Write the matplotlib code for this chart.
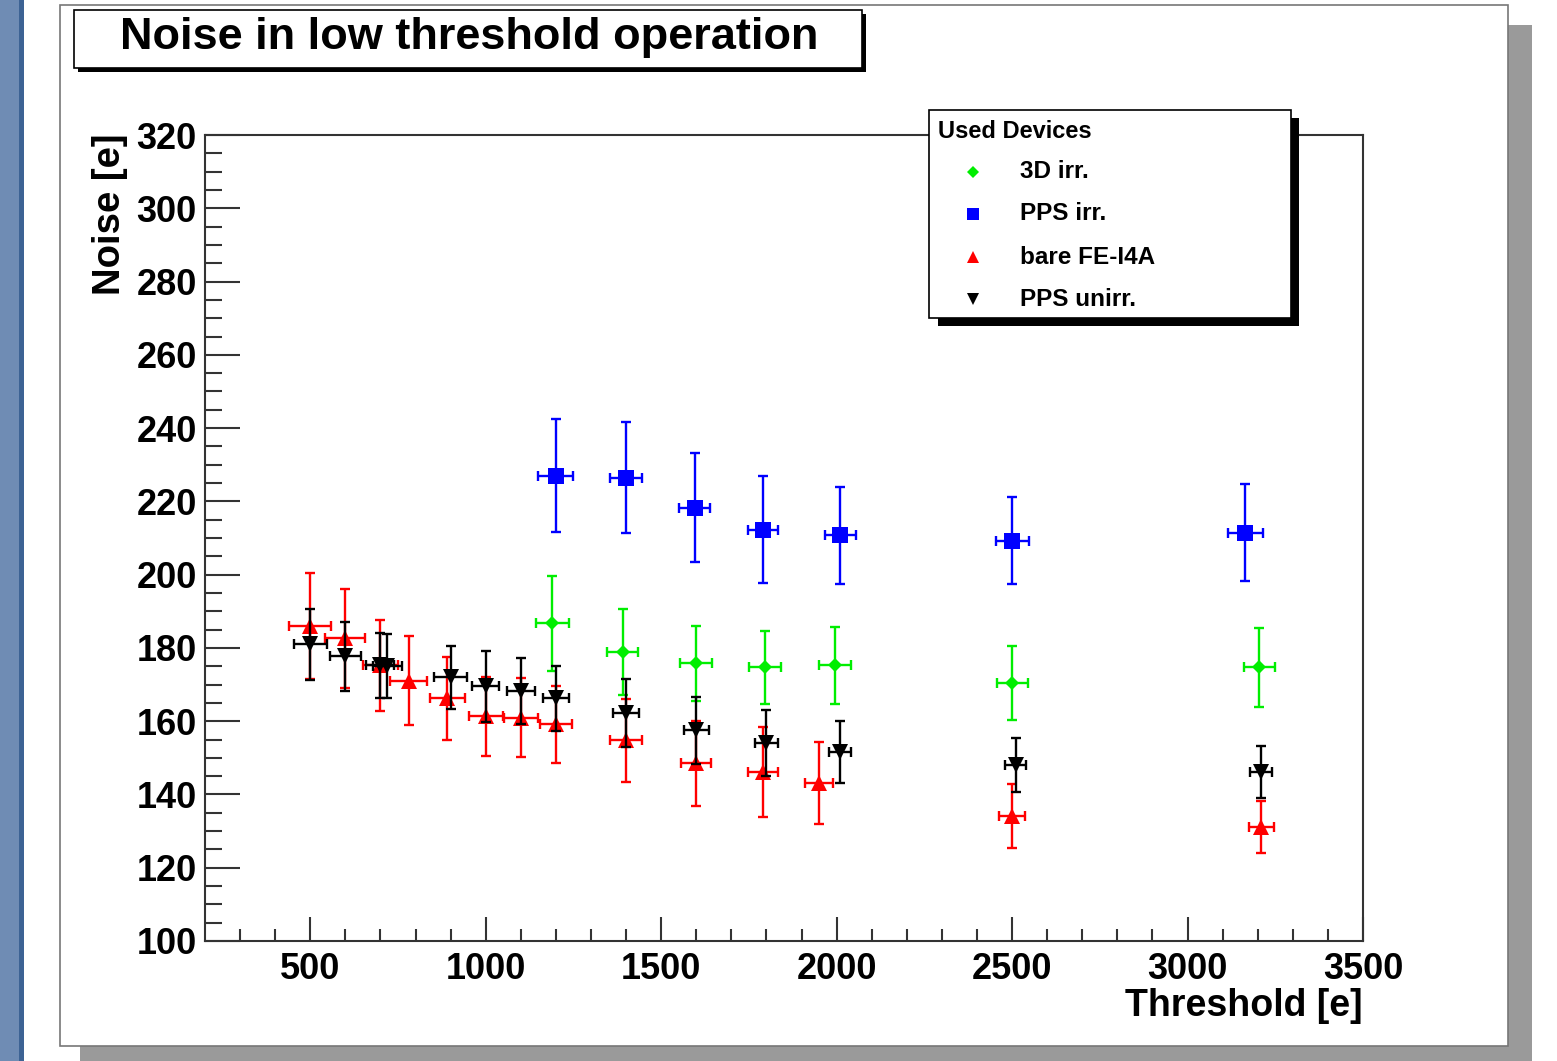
import matplotlib
matplotlib.use('Agg')
import matplotlib.pyplot as plt
from matplotlib.patches import Rectangle
from matplotlib.lines import Line2D

plt.rcParams['font.family'] = ['Liberation Sans', 'DejaVu Sans']
plt.rcParams['font.weight'] = 'bold'

# data
pps_irr_x = [1200, 1400, 1595, 1790, 2010, 2500, 3165]
pps_irr_y = [227.0, 226.5, 218.3, 212.3, 210.7, 209.3, 211.5]
pps_irr_xerr = [50, 46, 44, 44, 44, 47, 51]
pps_irr_yerr = [15.4, 15.2, 14.9, 14.6, 13.3, 11.9, 13.2]

d3_irr_x = [1190, 1390, 1600, 1795, 1995, 2500, 3205]
d3_irr_y = [186.7, 178.8, 175.8, 174.7, 175.2, 170.3, 174.7]
d3_irr_xerr = [48, 45, 46, 46, 46, 44, 45]
d3_irr_yerr = [13.0, 11.7, 10.2, 10.0, 10.5, 10.1, 10.7]

bare_x = [500, 600, 700, 780, 890, 1000, 1100, 1200, 1400, 1600, 1790, 1950, 2500, 3210]
bare_y = [185.9, 182.6, 175.2, 171.1, 166.2, 161.3, 161.0, 159.2, 154.8, 148.5, 146.1, 143.1, 134.1, 131.1]
bare_xerr = [60, 57, 50, 52, 50, 48, 48, 46, 45, 43, 43, 40, 38, 35]
bare_yerr = [14.5, 13.5, 12.5, 12.2, 11.2, 10.7, 10.9, 10.5, 11.3, 11.6, 12.3, 11.2, 8.7, 7.1]

unirr_x = [500, 600, 700, 720, 900, 1000, 1100, 1200, 1400, 1600, 1800, 2010, 2510, 3210]
unirr_y = [181.0, 177.7, 175.2, 175.0, 172.0, 169.5, 168.2, 166.2, 162.2, 157.5, 154.0, 151.5, 148.0, 146.1]
unirr_xerr = [47, 45, 40, 40, 48, 39, 40, 37, 36, 35, 33, 32, 30, 32]
unirr_yerr = [9.7, 9.4, 8.9, 8.8, 8.6, 9.7, 9.0, 8.8, 9.3, 9.2, 9.0, 8.5, 7.3, 7.1]

W, H = 1557, 1061
fig = plt.figure(figsize=(W / 100, H / 100), dpi=100)
fig.patch.set_facecolor('white')


def box(x0, y0, x1, y1, **kw):
    # pixel box (top-left origin) -> figure rectangle
    r = Rectangle((x0 / W, 1 - y1 / H), (x1 - x0) / W, (y1 - y0) / H,
                  transform=fig.transFigure, **kw)
    fig.add_artist(r)
    return r


# window decoration: blue strip on the left, canvas with grey shadow
box(0, 0, 19, H, facecolor='#6f8cb4', edgecolor='none', zorder=0)
box(19, 0, 24, H, facecolor='#3d6394', edgecolor='none', zorder=0)
box(1508, 25, 1532, H, facecolor='#9a9a9a', edgecolor='none', zorder=0)
box(80, 1046, 1532, H, facecolor='#9a9a9a', edgecolor='none', zorder=0)
box(60, 5, 1508, 1046, facecolor='white', edgecolor='#777777', linewidth=1.2, zorder=0.5)

# axes
ax = fig.add_axes([205 / W, (H - 941) / H, (1363 - 205) / W, (941 - 135) / H])
ax.set_zorder(1)
ax.set_xlim(200, 3500)
ax.set_ylim(100, 320)
for s in ax.spines.values():
    s.set_linewidth(1.5)
    s.set_color('#333333')

series = [
    (d3_irr_x, d3_irr_y, d3_irr_xerr, d3_irr_yerr, '#00ee00', 'D', 7),
    (pps_irr_x, pps_irr_y, pps_irr_xerr, pps_irr_yerr, '#0000ff', 's', 11),
    (bare_x, bare_y, bare_xerr, bare_yerr, '#ff0000', '^', 11),
    (unirr_x, unirr_y, unirr_xerr, unirr_yerr, 'black', 'v', 11),
]
z = 2
for xs, ys, xe, ye, c, m, ms in series:
    ax.errorbar(xs, ys, xerr=xe, yerr=ye, fmt='none', ecolor=c,
                elinewidth=1.7, capsize=3.7, capthick=1.7, zorder=z)
    ax.plot(xs, ys, linestyle='none', marker=m, color=c, ms=ms, mew=0, zorder=z + 0.5)
    z += 1

ax.set_xticks([500, 1000, 1500, 2000, 2500, 3000, 3500])
ax.set_xticks(range(300, 3500, 100), minor=True)
ax.set_yticks(range(100, 321, 20))
ax.set_yticks(range(100, 321, 5), minor=True)
ax.tick_params(axis='both', which='both', direction='in', top=False, right=False,
               labelsize=26, width=1.5, color='#333333')
ax.tick_params(axis='y', which='major', length=25, pad=6)
ax.tick_params(axis='y', which='minor', length=12)
ax.tick_params(axis='x', which='major', length=17, pad=8)
ax.tick_params(axis='x', which='minor', length=9)
for lab in ax.get_xticklabels() + ax.get_yticklabels():
    lab.set_fontweight('bold')

# axis titles
fig.text(110 / W, 1 - 133 / H, 'Noise [e]', rotation=90, ha='center', va='top',
         fontsize=27.5, fontweight='bold')
fig.text(1363 / W, 1 - 1006 / H, 'Threshold [e]', ha='right', va='center',
         fontsize=27, fontweight='bold')

# title box
box(78, 14, 866, 72, facecolor='black', edgecolor='none', zorder=2)
box(74, 10, 862, 68, facecolor='white', edgecolor='black', linewidth=1.2, zorder=3)
fig.text(469 / W, 1 - 37 / H, 'Noise in low threshold operation', ha='center', va='center',
         fontsize=32.5, fontweight='bold', zorder=4)

# legend
box(938, 118, 1299, 326, facecolor='black', edgecolor='none', zorder=5)
box(929, 110, 1291, 318, facecolor='white', edgecolor='black', linewidth=1.2, zorder=6)
fig.text(938 / W, 1 - 131 / H, 'Used Devices', ha='left', va='center',
         fontsize=17, fontweight='bold', zorder=7)
labels = ['3D irr.', 'PPS irr.', 'bare FE-I4A', 'PPS unirr.']
ys_leg = [172, 214, 257, 299]
for (xs, ys, xe, ye, c, m, ms), lab, yl in zip(series, labels, ys_leg):
    fig.add_artist(Line2D([973 / W], [1 - yl / H], marker=m, color=c, ms=ms * 0.85,
                          markeredgewidth=0, linestyle='none', transform=fig.transFigure, zorder=7))
    fig.text(1020 / W, 1 - yl / H, lab, ha='left', va='center', fontsize=17.5,
             fontweight='bold', zorder=7)

fig.savefig('out.png', dpi=100)
